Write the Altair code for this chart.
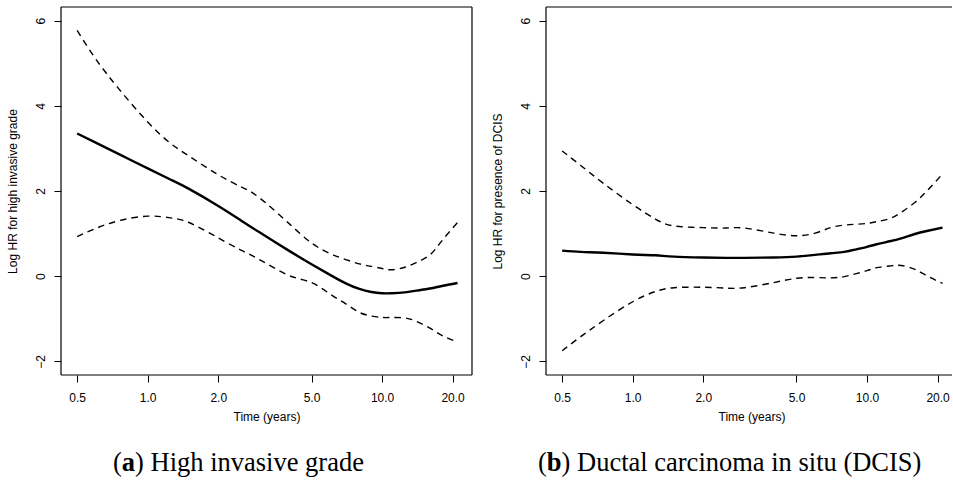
import altair as alt
import pandas as pd

# Follow-up time (years) at which the smoothed log hazard ratios are given
TIME = [0.5, 0.6, 0.75, 1.0, 1.25, 1.5, 2.0, 2.5, 3.0, 4.0, 5.0, 6.0, 7.0,
        8.0, 9.0, 10.0, 11.0, 12.5, 14.0, 16.0, 18.0, 21.0]

# (a) High invasive grade: estimate and pointwise confidence limits
GRADE_EST = [3.35, 3.135, 2.87, 2.53, 2.27, 2.05, 1.65, 1.31, 1.03, 0.60, 0.28,
             0.03, -0.17, -0.30, -0.37, -0.40, -0.40, -0.38, -0.34, -0.29,
             -0.23, -0.16]
GRADE_UPPER = [5.77, 5.10, 4.41, 3.62, 3.12, 2.82, 2.38, 2.10, 1.84, 1.24, 0.78,
               0.53, 0.39, 0.29, 0.23, 0.18, 0.15, 0.21, 0.32, 0.50, 0.83, 1.26]
GRADE_LOWER = [0.93, 1.12, 1.30, 1.41, 1.37, 1.26, 0.90, 0.61, 0.39, 0.02, -0.15,
               -0.42, -0.65, -0.85, -0.935, -0.97, -0.97, -0.98, -1.06, -1.22,
               -1.39, -1.55]

# (b) Presence of DCIS: estimate and pointwise confidence limits
DCIS_EST = [0.60, 0.57, 0.55, 0.51, 0.49, 0.46, 0.44, 0.43, 0.43, 0.44, 0.46,
            0.50, 0.54, 0.57, 0.63, 0.69, 0.75, 0.82, 0.89, 0.99, 1.06, 1.14]
DCIS_UPPER = [2.94, 2.60, 2.18, 1.68, 1.34, 1.18, 1.14, 1.13, 1.13, 1.01, 0.95,
              1.01, 1.14, 1.20, 1.22, 1.24, 1.28, 1.35, 1.50, 1.73, 2.00, 2.40]
DCIS_LOWER = [-1.75, -1.42, -1.04, -0.60, -0.36, -0.27, -0.26, -0.28, -0.27,
              -0.15, -0.05, -0.03, -0.04, -0.01, 0.06, 0.13, 0.20, 0.24, 0.25,
              0.16, 0.01, -0.17]

X_TICKS = [0.5, 1.0, 2.0, 5.0, 10.0, 20.0]
Y_TICKS = [-2, 0, 2, 4, 6]

H = 368
X_MIN = 0.4266
Y_DOMAIN = [-2.32, 6.32]
SANS = "Liberation Sans"
SERIF = "Liberation Serif"
CAP_SIZE = 26.5


def panel(est, upper, lower, y_title, width, x_max, letter, rest, cap_x,
          letter_w, right_frame):
    est_df = pd.DataFrame({"time": TIME, "value": est})
    band_df = pd.concat([
        pd.DataFrame({"time": TIME, "value": upper, "bound": "upper"}),
        pd.DataFrame({"time": TIME, "value": lower, "bound": "lower"}),
    ])
    one = pd.DataFrame({"k": [0]})

    x = alt.X(
        "time:Q",
        scale=alt.Scale(type="log", domain=[X_MIN, x_max], nice=False),
        axis=alt.Axis(
            values=X_TICKS, format=".1f", title="Time (years)",
            titleX=205.5, titleY=45.5, titleAlign="center",
            titleBaseline="alphabetic", tickSize=7, labelPadding=19.5,
            labelBaseline="alphabetic", labelFlush=False, domain=False,
            grid=False,
        ),
    )
    y = alt.Y(
        "value:Q",
        scale=alt.Scale(domain=Y_DOMAIN, nice=False, zero=False),
        axis=alt.Axis(
            values=Y_TICKS, format="d", title=y_title, titleAngle=270,
            titleX=-45, titleY=H / 2, titleAlign="center",
            titleBaseline="alphabetic", labelAngle=270, labelAlign="center",
            labelBaseline="alphabetic", labelPadding=9.3, tickSize=7,
            labelFlush=False, domain=False, grid=False,
        ),
    )

    est_line = alt.Chart(est_df).mark_line(
        color="black", strokeWidth=2.4, interpolate="natural"
    ).encode(x=x, y=y)

    band_lines = alt.Chart(band_df).mark_line(
        color="black", strokeWidth=1.4, strokeDash=[6.5, 5],
        interpolate="natural"
    ).encode(x=x, y=y, detail="bound:N")

    # box around the plotting region
    frame_style = dict(color="black", strokeWidth=1.2)
    frame = [
        alt.Chart(one).mark_rule(**frame_style).encode(
            x=alt.value(0), x2=alt.value(width), y=alt.value(0)),
        alt.Chart(one).mark_rule(**frame_style).encode(
            x=alt.value(0), x2=alt.value(width), y=alt.value(H)),
        alt.Chart(one).mark_rule(**frame_style).encode(
            x=alt.value(0), y=alt.value(0), y2=alt.value(H)),
    ]
    if right_frame:
        frame.append(alt.Chart(one).mark_rule(**frame_style).encode(
            x=alt.value(width), y=alt.value(0), y2=alt.value(H)))

    # sub-figure caption: "(" + bold letter + ") title"
    cap_y = 463.7
    paren_w = 0.333 * CAP_SIZE
    caption = [
        alt.Chart(one).mark_text(
            align="left", baseline="alphabetic", font=SERIF,
            fontSize=CAP_SIZE, color="black"
        ).encode(x=alt.value(cap_x), y=alt.value(cap_y), text=alt.value("(")),
        alt.Chart(one).mark_text(
            align="left", baseline="alphabetic", font=SERIF,
            fontSize=CAP_SIZE, fontWeight="bold", color="black"
        ).encode(x=alt.value(cap_x + paren_w), y=alt.value(cap_y),
                 text=alt.value(letter)),
        alt.Chart(one).mark_text(
            align="left", baseline="alphabetic", font=SERIF,
            fontSize=CAP_SIZE, color="black"
        ).encode(x=alt.value(cap_x + paren_w + letter_w), y=alt.value(cap_y),
                 text=alt.value(rest)),
    ]

    return alt.layer(band_lines, est_line, *frame, *caption).properties(
        width=width, height=H
    )


panel_a = panel(GRADE_EST, GRADE_UPPER, GRADE_LOWER,
                "Log HR for high invasive grade", 411, 24.2,
                "a", ") High invasive grade", 52, 0.5 * CAP_SIZE, True)
panel_b = panel(DCIS_EST, DCIS_UPPER, DCIS_LOWER,
                "Log HR for presence of DCIS", 406, 23.05,
                "b", ") Ductal carcinoma in situ (DCIS)", -8,
                0.556 * CAP_SIZE, False)

chart = alt.hconcat(panel_a, panel_b, spacing=18).configure(
    padding={"left": 6, "top": 6, "right": 0, "bottom": 0},
    background="white",
).configure_view(stroke=None).configure_axis(
    labelFont=SANS, labelFontSize=12, labelColor="black",
    titleFont=SANS, titleFontSize=12, titleFontWeight="normal",
    titleColor="black", tickColor="black", tickWidth=1,
)

chart.save("out.html", embed_options={"renderer": "svg", "actions": False})
